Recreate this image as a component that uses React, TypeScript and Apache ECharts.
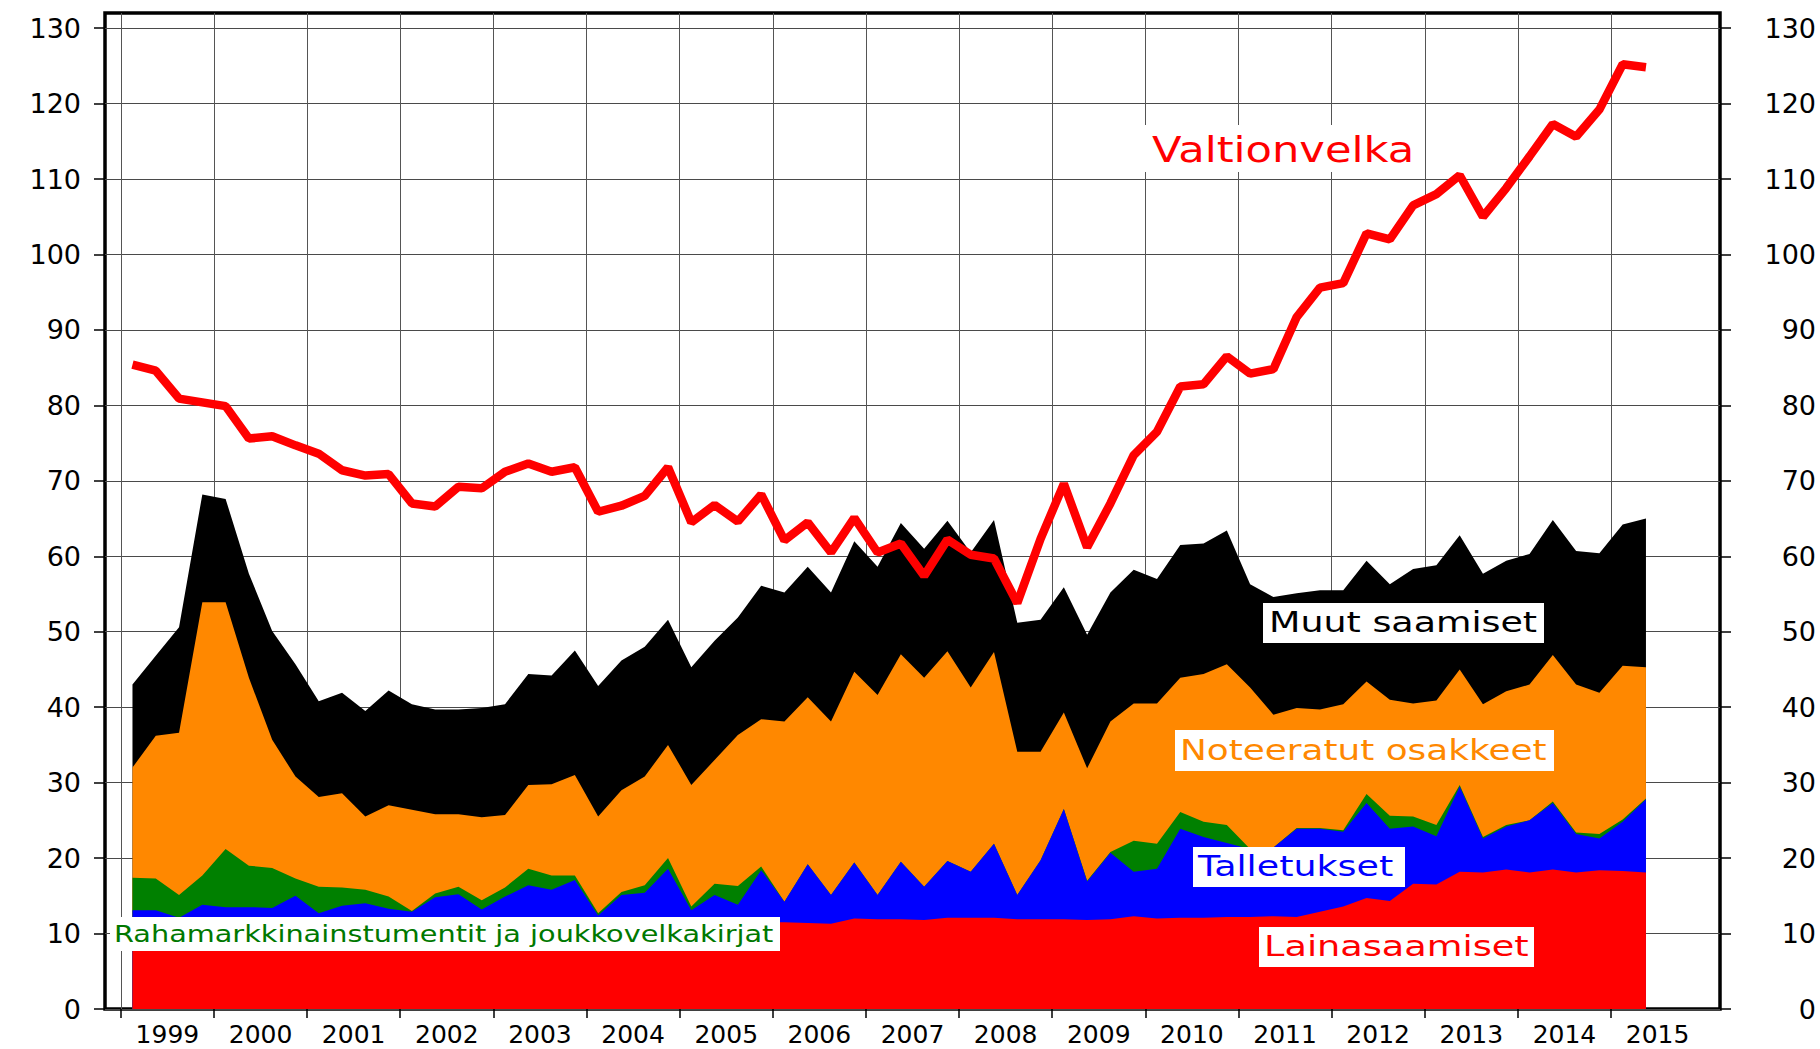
import React, { useEffect, useRef } from "react";
import * as echarts from "echarts";

const quarters = [
  "1999Q1","1999Q2","1999Q3","1999Q4","2000Q1","2000Q2","2000Q3","2000Q4",
  "2001Q1","2001Q2","2001Q3","2001Q4","2002Q1","2002Q2","2002Q3","2002Q4",
  "2003Q1","2003Q2","2003Q3","2003Q4","2004Q1","2004Q2","2004Q3","2004Q4",
  "2005Q1","2005Q2","2005Q3","2005Q4","2006Q1","2006Q2","2006Q3","2006Q4",
  "2007Q1","2007Q2","2007Q3","2007Q4","2008Q1","2008Q2","2008Q3","2008Q4",
  "2009Q1","2009Q2","2009Q3","2009Q4","2010Q1","2010Q2","2010Q3","2010Q4",
  "2011Q1","2011Q2","2011Q3","2011Q4","2012Q1","2012Q2","2012Q3","2012Q4",
  "2013Q1","2013Q2","2013Q3","2013Q4","2014Q1","2014Q2","2014Q3","2014Q4",
  "2015Q1","2015Q2"
];

// Levels (top edge of each coloured band)
const lainasaamiset = [
  11.8, 11.8, 11.8, 11.8, 11.8, 11.8, 11.8, 11.8, 11.8, 11.9,
  12.0, 11.9, 11.8, 11.8, 11.8, 11.8, 11.8, 11.8, 11.8, 11.7,
  11.7, 11.7, 11.6, 11.6, 11.6, 11.6, 11.5, 11.5, 11.5, 11.4,
  11.3, 12.0, 11.9, 11.9, 11.8, 12.1, 12.1, 12.1, 11.9, 11.9,
  11.9, 11.8, 11.9, 12.3, 12.0, 12.1, 12.1, 12.2, 12.2, 12.3,
  12.2, 12.9, 13.6, 14.7, 14.3, 16.6, 16.5, 18.2, 18.1, 18.5,
  18.1, 18.5, 18.1, 18.4, 18.3, 18.1
];
const talletuksetTaso = [
  13.1, 13.1, 12.1, 13.8, 13.5, 13.5, 13.4, 15.0, 12.7, 13.7,
  14.0, 13.3, 12.9, 14.8, 15.2, 13.2, 14.9, 16.4, 15.8, 17.1,
  12.4, 15.1, 15.4, 18.6, 13.1, 15.1, 13.8, 18.4, 14.2, 19.2,
  15.1, 19.4, 15.1, 19.5, 16.2, 19.6, 18.2, 21.9, 15.1, 19.7,
  26.5, 16.9, 20.7, 18.2, 18.6, 23.9, 22.8, 22.0, 21.2, 21.4,
  23.9, 23.9, 23.5, 27.3, 23.9, 24.2, 22.9, 29.5, 22.6, 24.2,
  25.0, 27.3, 23.2, 22.6, 24.8, 27.8
];
const rahamarkkinaTaso = [
  17.4, 17.3, 15.1, 17.7, 21.2, 19.0, 18.7, 17.3, 16.2, 16.1,
  15.8, 14.9, 13.0, 15.3, 16.2, 14.4, 16.1, 18.6, 17.7, 17.7,
  12.7, 15.5, 16.4, 20.0, 13.6, 16.6, 16.3, 18.9, 14.2, 19.2,
  15.1, 19.4, 15.1, 19.5, 16.2, 19.6, 18.2, 21.9, 15.1, 19.7,
  26.5, 17.0, 20.8, 22.3, 21.9, 26.1, 24.8, 24.4, 21.2, 21.4,
  24.0, 24.0, 23.7, 28.5, 25.6, 25.5, 24.4, 29.7, 22.8, 24.4,
  25.0, 27.5, 23.4, 23.2, 25.1, 27.9
];
const osakkeetTaso = [
  32.0, 36.2, 36.6, 53.9, 53.9, 43.9, 35.7, 30.8, 28.1, 28.6,
  25.5, 27.0, 26.4, 25.8, 25.8, 25.4, 25.7, 29.7, 29.8, 31.0,
  25.5, 29.0, 30.8, 35.0, 29.7, 33.0, 36.3, 38.4, 38.1, 41.3,
  38.1, 44.7, 41.6, 47.0, 43.9, 47.4, 42.6, 47.3, 34.1, 34.1,
  39.3, 31.9, 38.1, 40.5, 40.5, 43.9, 44.4, 45.7, 42.6, 39.0,
  39.9, 39.7, 40.4, 43.4, 41.0, 40.5, 40.9, 45.0, 40.4, 42.1,
  43.0, 46.9, 43.0, 41.9, 45.5, 45.3
];
const muutTaso = [
  43.0, 46.8, 50.6, 68.2, 67.6, 57.7, 50.1, 45.7, 40.8, 41.9,
  39.5, 42.2, 40.4, 39.7, 39.7, 39.9, 40.4, 44.4, 44.2, 47.5,
  42.8, 46.2, 48.0, 51.6, 45.3, 48.8, 51.9, 56.1, 55.2, 58.6,
  55.2, 62.0, 58.6, 64.4, 61.0, 64.7, 60.5, 64.8, 51.2, 51.6,
  55.9, 49.6, 55.2, 58.2, 57.0, 61.5, 61.7, 63.4, 56.3, 54.6,
  55.1, 55.5, 55.5, 59.4, 56.3, 58.3, 58.8, 62.8, 57.7, 59.4,
  60.3, 64.8, 60.7, 60.4, 64.2, 65.0
];
const valtionvelka = [
  85.4, 84.6, 80.9, 80.4, 79.9, 75.6, 75.9, 74.7, 73.6, 71.4,
  70.7, 70.9, 67.0, 66.6, 69.2, 69.0, 71.2, 72.3, 71.2, 71.8,
  65.9, 66.7, 68.0, 71.8, 64.5, 66.8, 64.6, 68.2, 62.1, 64.5,
  60.5, 65.1, 60.5, 61.7, 57.4, 62.2, 60.2, 59.7, 53.8, 62.3,
  69.6, 61.2, 67.0, 73.4, 76.5, 82.5, 82.8, 86.5, 84.2, 84.8,
  91.7, 95.6, 96.2, 102.8, 102.0, 106.5, 108.0, 110.5, 105.0, 108.8,
  113.0, 117.3, 115.6, 119.2, 125.2, 124.8
];

const yearTicks = [1999, 2000, 2001, 2002, 2003, 2004, 2005, 2006, 2007, 2008, 2009, 2010, 2011, 2012, 2013, 2014, 2015];
const yTicks = [0, 10, 20, 30, 40, 50, 60, 70, 80, 90, 100, 110, 120, 130];

const FONT = "DejaVu Sans";

function quarterX(q: string): number {
  return Number(q.slice(0, 4)) + (Number(q.slice(5)) - 0.5) / 4;
}

function toPoints(values: number[]) {
  return quarters.map((q, i) => [quarterX(q), values[i]]);
}

function areaSeries(name: string, values: number[], color: string) {
  return {
    name,
    type: "line",
    data: toPoints(values),
    symbol: "none",
    showSymbol: false,
    silent: true,
    lineStyle: { width: 0, color },
    itemStyle: { color },
    areaStyle: { color, opacity: 1 },
    z: 2,
  };
}

function label(text: string, color: string, fontSize: number, box: number[], tx: number, ty: number, sx: number) {
  return {
    type: "group",
    z: 100,
    children: [
      {
        type: "rect",
        z: 100,
        shape: { x: box[0], y: box[1], width: box[2], height: box[3] },
        style: { fill: "#ffffff" },
      },
      {
        type: "text",
        z: 101,
        x: tx,
        y: ty,
        scaleX: sx,
        style: {
          text,
          fill: color,
          font: `${fontSize}px '${FONT}'`,
          fontFamily: FONT,
          fontSize,
          align: "left",
          textAlign: "left",
          verticalAlign: "middle",
          textVerticalAlign: "middle",
        },
      },
    ],
  };
}

export default function App() {
  const ref = useRef<HTMLDivElement>(null);

  useEffect(() => {
    if (!ref.current) return;
    const chart = echarts.init(ref.current, undefined, { renderer: "svg" });
    const yAxisBase = {
      type: "value",
      min: 0,
      max: 132,
      interval: 10,
      axisLine: { show: false },
      axisTick: { show: true, customValues: yTicks, length: 11, lineStyle: { color: "#000", width: 1.5 } },
    };
    chart.setOption({
      animation: false,
      backgroundColor: "#ffffff",
      textStyle: { fontFamily: FONT },
      grid: {
        left: 105,
        right: 100,
        top: 13,
        bottom: 40,
        show: true,
        borderColor: "#000",
        borderWidth: 3.5,
        backgroundColor: "transparent",
        containLabel: false,
        outerBoundsMode: "none",
      },
      xAxis: {
        type: "value",
        min: 1998.83,
        max: 2016.17,
        axisLine: { show: false },
        axisTick: { show: true, customValues: yearTicks, length: 9, lineStyle: { color: "#000", width: 1.5 } },
        axisLabel: {
          customValues: yearTicks.map((y) => y + 0.5),
          formatter: (v: number) => String(Math.floor(v)),
          fontFamily: FONT,
          fontSize: 25,
          color: "#000",
          margin: 13,
        },
        splitLine: { show: true, lineStyle: { color: "#555555", width: 1 } },
      },
      yAxis: [
        {
          ...yAxisBase,
          position: "left",
          axisLabel: { customValues: yTicks, fontFamily: FONT, fontSize: 27, color: "#000", margin: 24 },
          splitLine: { show: true, lineStyle: { color: "#4a4a4a", width: 1 } },
        },
        {
          ...yAxisBase,
          position: "right",
          axisLabel: { customValues: yTicks, fontFamily: FONT, fontSize: 27, color: "#000", margin: 96, align: "right" },
          splitLine: { show: false },
        },
      ],
      series: [
        areaSeries("Muut saamiset", muutTaso, "#000000"),
        areaSeries("Noteeratut osakkeet", osakkeetTaso, "#ff8800"),
        areaSeries("Rahamarkkinainstumentit ja joukkovelkakirjat", rahamarkkinaTaso, "#008000"),
        areaSeries("Talletukset", talletuksetTaso, "#0000ff"),
        areaSeries("Lainasaamiset", lainasaamiset, "#ff0000"),
        {
          name: "Valtionvelka",
          type: "line",
          data: toPoints(valtionvelka),
          symbol: "none",
          showSymbol: false,
          silent: true,
          lineStyle: { color: "#ff0000", width: 8.5, cap: "butt", join: "bevel" },
          itemStyle: { color: "#ff0000" },
          z: 3,
        },
      ],
      graphic: [
        label("Valtionvelka", "#ff0000", 36, [1143, 125, 282, 47], 1152, 149, 1.2),
        label("Muut saamiset", "#000000", 28, [1263, 603, 281, 40], 1269, 623, 1.3),
        label("Noteeratut osakkeet", "#ff8800", 28, [1175, 730, 379, 41], 1180, 750, 1.28),
        label("Talletukset", "#0000ff", 28, [1193, 847, 212, 40], 1198, 867, 1.3),
        label("Lainasaamiset", "#ff0000", 28, [1259, 927, 275, 40], 1264, 947, 1.31),
        label("Rahamarkkinainstumentit ja joukkovelkakirjat", "#007800", 23, [110, 917, 670, 34], 114, 934, 1.25),
      ],
    });
    return () => chart.dispose();
  }, []);

  return (
    <div
      ref={ref}
      style={{ position: "fixed", left: 0, top: 0, width: "1820px", height: "1049px", background: "#fff" }}
    />
  );
}
